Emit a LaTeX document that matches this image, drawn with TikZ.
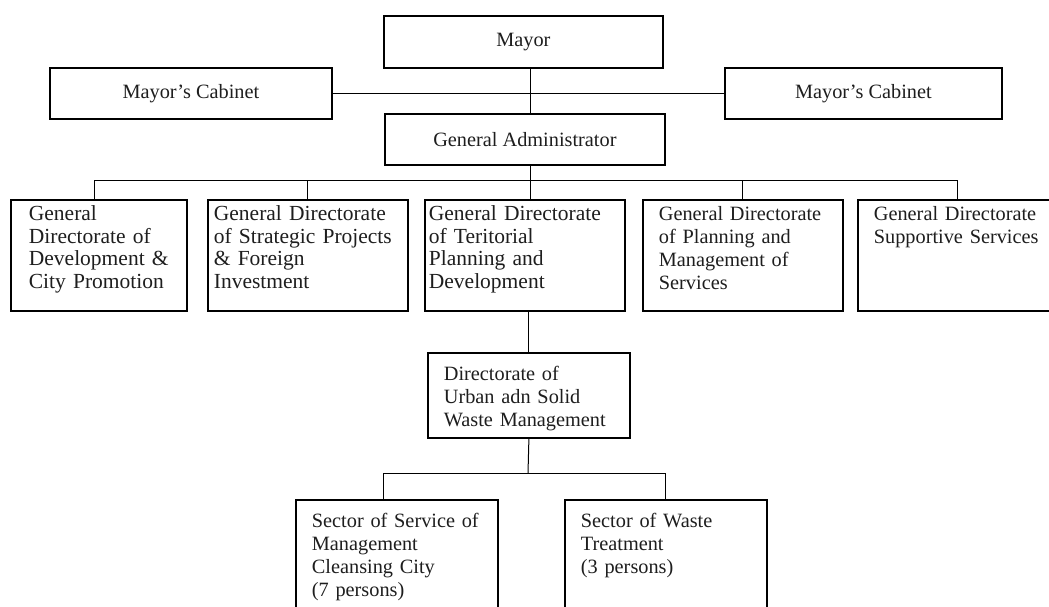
\documentclass[tikz,border=0pt]{standalone}
\usepackage{fontspec}
\setmainfont{Liberation Serif}
\usepackage{tikz}
\usetikzlibrary{positioning,calc}
\definecolor{orgink}{HTML}{1E1E1E}
\newcommand{\boxfont}{\fontsize{20.3}{23}\selectfont}
\newcommand{\widefont}{\fontsize{21.5}{22.4}\selectfont}

\begin{document}
\begin{tikzpicture}[
  x=1pt, y=1pt,
  font=\boxfont,
  headbox/.style={draw=black, line width=1.8pt, inner sep=0pt, anchor=north west,
                  align=center, text=orgink},
  unitbox/.style={draw=black, line width=1.8pt, inner ysep=0pt, anchor=north west,
                  align=left, text=orgink},
  link/.style={draw=black, line width=1pt},
]
\useasboundingbox (0,0) rectangle (1049,-607);
\clip (0,0) rectangle (1049,-607);
\fill[white] (0,0) rectangle (1049,-607);
% top of the chart
\node[headbox, minimum width=279, minimum height=52] (mayor) at (383,-15) {Mayor};
\node[headbox, minimum width=282, minimum height=51] (cabL) at (49,-67) {Mayor's Cabinet};
\node[headbox, minimum width=277, minimum height=51] (cabR) at (724,-67) {Mayor's Cabinet};
\node[headbox, minimum width=280, minimum height=51] (admin) at (384,-113) {General Administrator};
% general directorates
\node[unitbox, font=\widefont, inner xsep=18, text width=140, text height=21, text depth=90] (gd1) at (10,-199)
  {General\\Directorate of\\Development \&\\City Promotion};
\node[unitbox, font=\widefont, inner xsep=6, text width=188, text height=21, text depth=90] (gd2) at (207,-199)
  {General Directorate\\of Strategic Projects\\\& Foreign\\Investment};
\node[unitbox, font=\widefont, inner xsep=4, text width=192, text height=21, text depth=90] (gd3) at (424,-199)
  {General Directorate\\of Teritorial\\Planning and\\Development};
\node[unitbox, inner xsep=16, text width=168, text height=21, text depth=90] (gd4) at (642,-199)
  {General Directorate\\of Planning and\\Management of\\Services};
\node[unitbox, inner xsep=16, text width=168, text height=21, text depth=90] (gd5) at (857,-199)
  {General Directorate\\Supportive Services};
% waste management branch
\node[unitbox, inner xsep=16, text width=170, text height=28, text depth=57] (dir) at (427,-352)
  {Directorate of\\Urban adn Solid\\Waste Management};
\node[unitbox, inner xsep=16, text width=170, text height=28, text depth=112] (secL) at (295,-499)
  {Sector of Service of\\Management\\Cleansing City\\(7 persons)};
\node[unitbox, inner xsep=16, text width=170, text height=28, text depth=112] (secR) at (564,-499)
  {Sector of Waste\\Treatment\\(3 persons)};
% connectors
\coordinate (trunk) at (530,-91);
\coordinate (bus) at (530,-180);
\coordinate (lowbus) at (528,-473);
\coordinate (drop1) at ([xshift=-4pt]gd1.north);
\coordinate (dropL) at ([xshift=-13pt]secL.north);
\draw[link] (mayor.south -| trunk) -- (admin.north -| trunk);
\draw[link] (cabL.east) -- (cabR.west);
\draw[link] (admin.south -| bus) -- (gd3.north -| bus);
\draw[link] (drop1 |- bus) -- (gd5.north |- bus);
\draw[link] (drop1) -- (drop1 |- bus);
\foreach \gd in {gd2,gd4,gd5}
  \draw[link] (\gd.north) -- (\gd.north |- bus);
\draw[link] (gd3.south -| dir.north) -- (dir.north);
\draw[link] (dir.south) -- (lowbus);
\draw[link] (dropL |- lowbus) -- (secR.north |- lowbus);
\draw[link] (dropL) -- (dropL |- lowbus);
\draw[link] (secR.north) -- (secR.north |- lowbus);
\end{tikzpicture}
\end{document}
